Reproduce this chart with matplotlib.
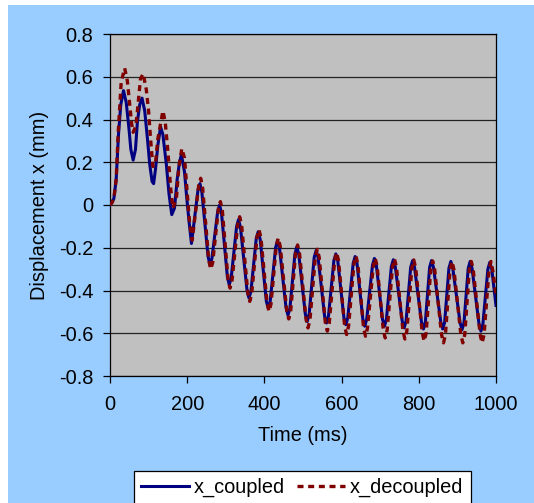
import matplotlib.pyplot as plt
import matplotlib as mpl
from matplotlib.patches import Rectangle

mpl.rcParams['font.family'] = ['Liberation Sans', 'DejaVu Sans']
mpl.rcParams['font.size'] = 14.4

# values (time in ms, displacement in mm)
t_coupled = [0, 4, 10, 16, 22, 28, 35, 42, 49, 54, 60, 66, 71, 77, 83, 90, 97,
             103, 109, 113, 118, 124, 131, 137, 146, 153, 160, 167, 174, 180,
             185, 193, 199, 205, 211,
             228, 233, 238, 254, 259, 264, 279, 284, 289, 304, 309, 314,
             328, 333, 338, 355, 360, 365, 379, 384, 389, 405, 410, 415,
             429, 434, 439, 456, 461, 466, 479, 484, 489, 506, 511, 516,
             529, 534, 539, 556, 561, 566, 580, 585, 590, 606, 611, 616,
             630, 635, 640, 655, 660, 665, 680, 685, 690, 706, 711, 716,
             729, 734, 739, 757, 762, 767, 779, 784, 789, 807, 812, 817,
             828, 833, 838, 857, 862, 867, 878, 883, 888, 907, 912, 917,
             928, 933, 938, 956, 961, 966, 979, 984, 989, 1000]
x_coupled = [0.0, 0.01, 0.03, 0.12, 0.33, 0.47, 0.535, 0.48, 0.36, 0.26, 0.21,
             0.26, 0.39, 0.47, 0.50, 0.44, 0.31, 0.19, 0.11, 0.10, 0.17, 0.28,
             0.365, 0.33, 0.19, 0.05, -0.045, -0.015, 0.12, 0.20, 0.235, 0.155,
             0.03, -0.08, -0.18,
             0.07, 0.10, 0.06, -0.24, -0.28, -0.25, -0.03, 0.0, -0.04,
             -0.335, -0.373, -0.34, -0.10, -0.068, -0.105, -0.40, -0.435, -0.405,
             -0.155, -0.125, -0.16, -0.45, -0.482, -0.45,
             -0.20, -0.166, -0.20, -0.48, -0.515, -0.485,
             -0.23, -0.196, -0.23, -0.51, -0.545, -0.51,
             -0.245, -0.213, -0.245, -0.52, -0.552, -0.52,
             -0.26, -0.229, -0.26, -0.527, -0.56, -0.528,
             -0.273, -0.241, -0.274, -0.534, -0.567, -0.535,
             -0.282, -0.25, -0.282, -0.535, -0.567, -0.536,
             -0.287, -0.256, -0.288, -0.543, -0.575, -0.543,
             -0.291, -0.26, -0.292, -0.548, -0.58, -0.548,
             -0.292, -0.26, -0.292, -0.548, -0.58, -0.548,
             -0.296, -0.264, -0.296, -0.551, -0.583, -0.552,
             -0.296, -0.264, -0.297, -0.557, -0.59, -0.558,
             -0.30, -0.268, -0.30, -0.47]

t_decoupled = [0, 5, 10, 16, 21, 29, 38, 45, 51, 56, 60, 67, 71, 79, 86, 94,
               100, 105, 111, 118, 124, 133, 137, 143, 150, 157, 163, 172, 178,
               186, 193, 199, 206, 213,
               230, 235, 240, 256, 261, 266, 281, 286, 291, 306, 311, 316,
               331, 336, 341, 357, 362, 367, 381, 386, 391, 407, 412, 417,
               431, 436, 441, 458, 463, 468, 481, 486, 491, 508, 513, 518,
               532, 537, 542, 558, 563, 568, 582, 587, 592, 608, 613, 618,
               632, 637, 642, 657, 662, 667, 682, 687, 692, 708, 713, 718,
               732, 737, 742, 759, 764, 769, 782, 787, 792, 809, 814, 819,
               831, 836, 841, 859, 864, 869, 881, 886, 891, 909, 914, 919,
               931, 936, 941, 959, 964, 969, 982, 987, 992, 1000]
x_decoupled = [0.0, 0.01, 0.03, 0.12, 0.33, 0.575, 0.64, 0.58, 0.47, 0.38, 0.34,
               0.37, 0.44, 0.59, 0.614, 0.54, 0.44, 0.31, 0.18, 0.20, 0.31, 0.40,
               0.44, 0.39, 0.25, 0.08, -0.015, 0.03, 0.17, 0.264, 0.22, 0.08,
               -0.08, -0.165,
               0.095, 0.125, 0.08, -0.26, -0.30, -0.27, -0.015, 0.016, -0.025,
               -0.35, -0.389, -0.355, -0.09, -0.055, -0.095, -0.41, -0.451, -0.417,
               -0.149, -0.115, -0.153, -0.46, -0.498, -0.464,
               -0.19, -0.155, -0.193, -0.495, -0.533, -0.498,
               -0.222, -0.187, -0.226, -0.536, -0.575, -0.538,
               -0.244, -0.207, -0.245, -0.552, -0.59, -0.553,
               -0.259, -0.222, -0.26, -0.568, -0.606, -0.568,
               -0.275, -0.238, -0.276, -0.576, -0.614, -0.577,
               -0.286, -0.249, -0.286, -0.585, -0.622, -0.585,
               -0.289, -0.252, -0.29, -0.589, -0.627, -0.59,
               -0.294, -0.257, -0.295, -0.599, -0.637, -0.60,
               -0.30, -0.262, -0.30, -0.607, -0.645, -0.607,
               -0.302, -0.264, -0.302, -0.607, -0.645, -0.607,
               -0.302, -0.264, -0.302, -0.607, -0.645, -0.607,
               -0.302, -0.264, -0.31, -0.42]

x_ticks = [0, 200, 400, 600, 800, 1000]
y_ticks = [-0.8, -0.6, -0.4, -0.2, 0, 0.2, 0.4, 0.6, 0.8]
y_ticklabels = ['-0.8', '-0.6', '-0.4', '-0.2', '0', '0.2', '0.4', '0.6', '0.8']

W, H = 534, 503
f = plt.figure(figsize=(W / 100, H / 100), dpi=100, facecolor='white')
# light blue chart area, white strip on left and top
f.patches.append(Rectangle((8 / W, 0), 1 - 8 / W, 1 - 5 / H,
                           transform=f.transFigure, facecolor='#99CCFF',
                           edgecolor='none', zorder=-10))

ax1 = f.add_axes([110 / W, 1 - 376 / H, (496 - 110) / W, (376 - 34) / H])
ax1.set_zorder(1)
ax1.set_facecolor('#C0C0C0')

ax1.plot(t_coupled, x_coupled, '-', color='#000080', lw=2.2,
         solid_joinstyle='round', label='x_coupled', zorder=3)
ax1.plot(t_decoupled, x_decoupled, color='#800000', lw=2.4,
         linestyle=(0, (1.8, 1.4)), dash_joinstyle='round',
         label='x_decoupled', zorder=4)

ax1.set_xlim(0, 1000)
ax1.set_ylim(-0.8, 0.8)
ax1.set_xticks(x_ticks)
ax1.set_yticks(y_ticks)
ax1.set_yticklabels(y_ticklabels)
ax1.grid(axis='y', color='#222222', lw=0.9)
ax1.set_axisbelow(True)
for s in ax1.spines.values():
    s.set_color('black')
    s.set_linewidth(0.9)
ax1.tick_params(axis='both', direction='out', length=5, width=0.9,
                colors='black')
ax1.tick_params(axis='x', pad=8.5)
ax1.tick_params(axis='y', pad=7)

ax1.set_xlabel('Time (ms)', labelpad=9)
ax1.set_ylabel('Displacement x (mm)', labelpad=7)

leg = ax1.legend(loc='upper left', bbox_to_anchor=(134 / W, 1 - 471 / H),
                 bbox_transform=f.transFigure, ncol=2, frameon=True,
                 fancybox=False, handlelength=2.4, handletextpad=0.25,
                 columnspacing=0.6, borderpad=0.35, borderaxespad=0)
leg.get_frame().set_edgecolor('black')
leg.get_frame().set_facecolor('white')
leg.get_frame().set_alpha(1)
leg.get_frame().set_linewidth(0.9)

f.savefig('out.png', dpi=100)
